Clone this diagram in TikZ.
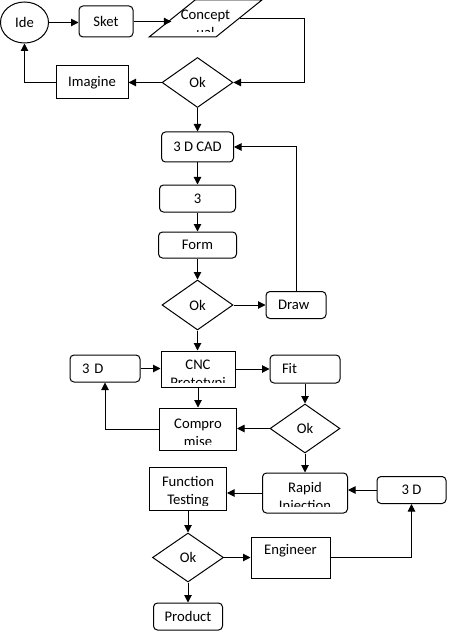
\documentclass[tikz,border=0pt]{standalone}
\usepackage{fontspec}
\setmainfont{Carlito}
\usetikzlibrary{shapes.geometric,arrows.meta,positioning}

\begin{document}
\begin{tikzpicture}[x=1pt, y=-1pt,
    font=\fontsize{14.67}{17.9}\selectfont,
    base/.style={draw=black, line width=1pt, inner sep=0pt, align=center},
    rbox/.style={base, rounded corners=4pt},
    pbox/.style={base},
    dec/.style={base, diamond, minimum width=71pt, minimum height=50pt},
    oval/.style={base, ellipse},
    slanted/.style={base, inner sep=2pt, trapezium, trapezium left angle=68, trapezium right angle=112, trapezium stretches=true},
    lefttext/.style={text width=#1, align=left},
    cliptext/.style n args={3}{path picture={%
        \clip ([yshift=#2]path picture bounding box.south west) rectangle (path picture bounding box.north east);
        \node[draw=none, fill=none, inner sep=0pt, align=center] at ([yshift=#1]path picture bounding box.center) {#3};}},
    flow/.style={draw=black, line width=1pt, -{Triangle[length=7.5pt, width=7.5pt]}}
]
    \useasboundingbox (0,0) rectangle (455,631);

    % Idea loop
    \node[oval, minimum width=48pt, minimum height=41pt] (ide) at (24.5,22.5) {Ide};
    \node[rbox, minimum width=54pt, minimum height=31pt] (sket) at (106,21.5) {Sket};
    \node[slanted, minimum width=113pt, minimum height=37pt, cliptext={-5}{5}{Concept\\ual}] (concept) at (205.5,18.5) {\strut};
    \node[dec] (okidea) at (197.5,82.5) {Ok};
    \node[pbox, minimum width=72pt, minimum height=33pt] (imagine) at (92,82.5) {Imagine};

    % CAD column
    \node[rbox, minimum width=72pt, minimum height=30pt] (cad) at (197.5,147) {3 D CAD};
    \node[rbox, minimum width=76pt, minimum height=27pt] (cadprint) at (197.5,198.5) {3};
    \node[rbox, minimum width=78pt, minimum height=26pt] (form) at (197.5,245) {Form};
    \node[dec] (okform) at (197.5,305) {Ok};
    \node[rbox, minimum width=60pt, minimum height=27pt, lefttext=36pt] (redraw) at (296,305) {Draw};

    % Prototyping
    \node[pbox, minimum width=74pt, minimum height=36pt, cliptext={-6}{5}{CNC\\Prototypi}] (cnc) at (198,369) {};
    \node[rbox, minimum width=70pt, minimum height=27pt, lefttext=46pt] (leftthreed) at (105,368.5) {3 D};
    \node[rbox, minimum width=70pt, minimum height=28pt, lefttext=46pt] (fit) at (305,369) {Fit};
    \node[pbox, minimum width=77pt, minimum height=42pt, cliptext={-3.5}{6}{Compro\\mise}] (compromise) at (198,429) {};
    \node[dec, minimum width=70pt, minimum height=49pt] (okfit) at (305,428.5) {Ok};

    % Injection and testing
    \node[rbox, minimum width=85pt, minimum height=40pt, cliptext={-4.5}{7}{Rapid\\Injection}] (rapid) at (305,493) {};
    \node[pbox, minimum width=77pt, minimum height=43pt, cliptext={-3.5}{5}{Function\\Testing}] (ftest) at (188,488.5) {};
    \node[rbox, minimum width=69pt, minimum height=27pt] (rightthreed) at (411.5,490) {3 D};
    \node[dec, minimum height=49pt] (okfunc) at (188,557.5) {Ok};
    \node[pbox, minimum width=79pt, minimum height=41pt, cliptext={6.5}{0}{Engineer}] (engineer) at (290.5,557.5) {};
    \node[rbox, minimum width=69pt, minimum height=27pt] (product) at (188,616.5) {Product};

    % Connectors
    \draw[flow] (ide.east) -- (ide.east -| sket.west);
    \draw[flow] (sket.east) -- (sket.east -| concept.west);
    \draw[flow] (concept.east) -- ++(65,0) |- (okidea.east);
    \draw[flow] (okidea.west) -- (imagine.east);
    \draw[flow] (imagine.west) -| (ide.south);
    \draw[flow] (okidea.south) -- (cad.north);
    \draw[flow] (cad.south) -- (cadprint.north);
    \draw[flow] (cadprint.south) -- (form.north);
    \draw[flow] (form.south) -- (okform.north);
    \draw[flow] (okform.east) -- (redraw.west);
    \draw[flow] (redraw.north) |- (cad.east);
    \draw[flow] (okform.south) -- (okform.south |- cnc.north);
    \draw[flow] (leftthreed.east) -- (leftthreed.east -| cnc.west);
    \draw[flow] (cnc.east) -- (cnc.east -| fit.west);
    \draw[flow] (cnc.south) -- (compromise.north);
    \draw[flow] (fit.south) -- (okfit.north);
    \draw[flow] (okfit.west) -- (okfit.west -| compromise.east);
    \draw[flow] (compromise.west) -| (leftthreed.south);
    \draw[flow] (okfit.south) -- (rapid.north);
    \draw[flow] (rapid.west) -- (rapid.west -| ftest.east);
    \draw[flow] (rightthreed.west) -- (rightthreed.west -| rapid.east);
    \draw[flow] (ftest.south) -- (okfunc.north);
    \draw[flow] (okfunc.east) -- (engineer.west);
    \draw[flow] (engineer.east) -| (rightthreed.south);
    \draw[flow] (okfunc.south) -- (product.north);

\end{tikzpicture}
\end{document}
